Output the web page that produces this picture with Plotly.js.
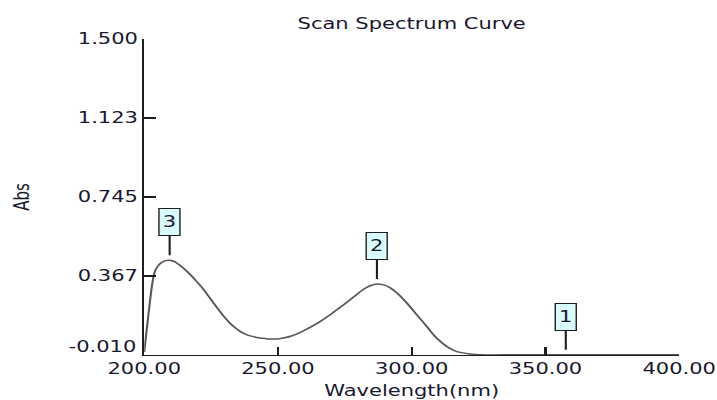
<!DOCTYPE html>
<html>
<head>
<meta charset="utf-8">
<script src="https://cdn.plot.ly/plotly-3.0.1.min.js"></script>
<style>
  html, body { margin: 0; padding: 0; background: #ffffff; overflow: hidden; }
  #chart { width: 512px; height: 400px; transform: scaleX(1.400390625); transform-origin: 0 0; }
</style>
</head>
<body>
<div id="chart"></div>
<script>
// ---- data ----
const wavelength = [200.0, 201.0, 202.0, 203.0, 204.0, 205.0, 206.0, 207.0, 208.0, 209.0, 210.0, 211.0, 212.0, 213.0, 214.0, 215.0, 216.0, 217.0, 218.0, 219.0, 220.0, 222.0, 224.0, 226.0, 228.0, 230.0, 232.0, 234.0, 236.0, 238.0, 240.0, 242.0, 244.0, 246.0, 248.0, 250.0, 252.0, 255.0, 258.0, 262.0, 266.0, 270.0, 274.0, 278.0, 282.0, 284.5, 287.0, 289.5, 292.0, 295.0, 298.0, 302.0, 305.7, 309.4, 313.2, 316.9, 321.9, 325.6, 340.0, 360.0, 380.0, 400.0];
const absorbance = [0.004, 0.120, 0.230, 0.330, 0.390, 0.413, 0.427, 0.436, 0.441, 0.443, 0.442, 0.438, 0.431, 0.422, 0.412, 0.401, 0.389, 0.377, 0.364, 0.350, 0.336, 0.306, 0.272, 0.237, 0.203, 0.171, 0.143, 0.120, 0.102, 0.089, 0.080, 0.074, 0.070, 0.067, 0.066, 0.067, 0.071, 0.081, 0.096, 0.122, 0.152, 0.187, 0.225, 0.265, 0.304, 0.321, 0.329, 0.325, 0.311, 0.280, 0.241, 0.181, 0.125, 0.070, 0.030, 0.006, -0.005, -0.009, -0.009, -0.009, -0.009, -0.009];

const peakLabels = ["1", "2", "3"];
const peakWavelength = [357.6, 287.0, 209.5];
const peakAbs = [-0.009, 0.329, 0.443];

const xTicks = [200, 250, 300, 350, 400];
const xTickLabels = ["200.00", "250.00", "300.00", "350.00", "400.00"];
const yTicks = [-0.010, 0.367, 0.745, 1.123, 1.500];
const yTickLabels = ["-0.010", "0.367", "0.745", "1.123", "1.500"];

// ---- styling ----
const FONT = "DejaVu Sans, Verdana, sans-serif";
const TXT = "#18182e";
const AX = "#1e1e1e";

const trace = {
  x: wavelength,
  y: absorbance,
  type: "scatter",
  mode: "lines",
  line: { color: "#5e5454", width: 1.5, shape: "spline", smoothing: 1 },
  hoverinfo: "skip",
  showlegend: false
};

const annotations = peakLabels.map((lab, i) => ({
  x: peakWavelength[i],
  y: peakAbs[i],
  xref: "x",
  yref: "y",
  text: lab,
  showarrow: true,
  arrowhead: 0,
  arrowwidth: 1.5,
  arrowcolor: AX,
  ax: 0,
  ay: -38,
  standoff: 5,
  bgcolor: "#d9fbfb",
  bordercolor: AX,
  borderwidth: 1,
  borderpad: 1,
  width: 12,
  height: 24,
  font: { family: FONT, size: 15, color: TXT }
}));

// bottom y tick label drawn slightly raised, as in the reference
annotations.push({
  x: 0,
  xref: "paper",
  y: yTicks[0],
  yref: "y",
  text: yTickLabels[0],
  showarrow: false,
  xanchor: "right",
  yanchor: "middle",
  xshift: -4,
  yshift: 8,
  font: { family: FONT, size: 15, color: TXT }
});

const layout = {
  width: 512,
  height: 400,
  margin: { l: 103, r: 27, t: 39, b: 45, pad: 0 },
  paper_bgcolor: "#ffffff",
  plot_bgcolor: "#ffffff",
  font: { family: FONT, size: 15, color: TXT },
  title: {
    text: "Scan Spectrum Curve",
    x: 0.5, xref: "paper", xanchor: "center",
    y: 0.94, yref: "container", yanchor: "middle",
    font: { family: FONT, size: 15, color: TXT }
  },
  xaxis: {
    range: [200, 400],
    tickmode: "array",
    tickvals: xTicks,
    ticktext: xTickLabels,
    ticks: "inside",
    ticklen: 8,
    tickwidth: 1.5,
    tickcolor: AX,
    showline: true,
    linecolor: AX,
    linewidth: 1.3,
    showgrid: false,
    zeroline: false,
    automargin: false,
    tickfont: { family: FONT, size: 15, color: TXT },
    title: { text: "Wavelength(nm)", standoff: 11, font: { family: FONT, size: 15, color: TXT } }
  },
  yaxis: {
    range: [-0.010, 1.500],
    tickmode: "array",
    tickvals: yTicks,
    ticktext: yTickLabels.map((t, i) => (i === 0 ? "" : t)),
    ticks: "inside",
    ticklen: 8.6,
    tickwidth: 1.3,
    tickcolor: AX,
    showline: true,
    linecolor: AX,
    linewidth: 1.5,
    showgrid: false,
    zeroline: false,
    automargin: false,
    tickfont: { family: FONT, size: 15, color: TXT },
    title: { text: "Abs", standoff: 30, font: { family: FONT, size: 15, color: TXT } }
  },
  annotations: annotations,
  showlegend: false
};

Plotly.newPlot("chart", [trace], layout, { staticPlot: true, displayModeBar: false });
</script>
</body>
</html>
